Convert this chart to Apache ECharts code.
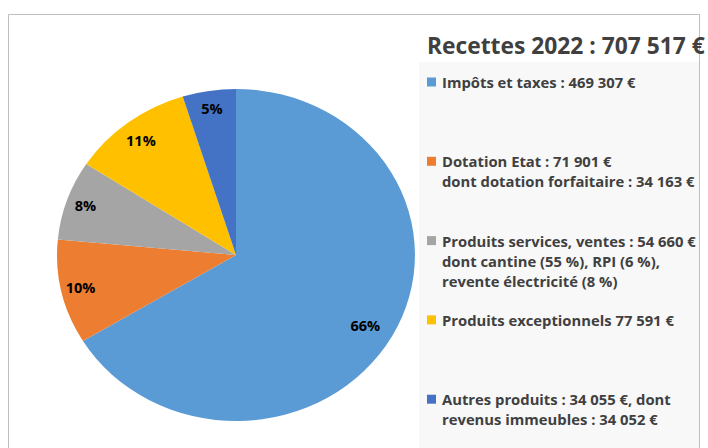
<!DOCTYPE html>
<html>
<head>
<meta charset="utf-8">
<script src="https://cdn.jsdelivr.net/npm/echarts/dist/echarts.min.js"></script>
<style>
html,body{margin:0;padding:0;background:#fff;}
#bg,#pie{position:absolute;left:0;top:0;width:708px;height:448px;}
#pie{transform-origin:236px 255px;transform:scaleX(1.078);}
</style>
</head>
<body>
<div id="bg"></div>
<div id="pie"></div>
<script>
const titleText = 'Recettes 2022 : 707 517 €';
const categories = ['Impôts et taxes', 'Dotation Etat', 'Produits services, ventes', 'Produits exceptionnels', 'Autres produits'];
const values = [469307, 71901, 54660, 77591, 34055];
const colors = ['#5B9BD5', '#ED7D31', '#A5A5A5', '#FFC000', '#4472C4'];
const legendLines = [
  ['Impôts et taxes : 469 307 €'],
  ['Dotation Etat : 71 901 €', 'dont dotation forfaitaire : 34 163 €'],
  ['Produits services, ventes : 54 660 €', 'dont cantine (55 %), RPI (6 %),', 'revente électricité (8 %)'],
  ['Produits exceptionnels 77 591 €'],
  ['Autres produits : 34 055 €, dont', 'revenus immeubles : 34 052 €']
];

const FONT = '"Open Sans", Lato, sans-serif';
const textColor = '#404040';

// Background layer: frame, title, legend
const bg = echarts.init(document.getElementById('bg'), null, {renderer: 'svg'});
const graphics = [
  {type: 'rect', shape: {x: 8.5, y: 14.5, width: 691, height: 460}, style: {fill: '#fff', stroke: '#BFBFBF', lineWidth: 1}},
  {type: 'rect', shape: {x: 419, y: 62, width: 280, height: 390}, style: {fill: '#F8F8F8'}},
  {type: 'text', x: 427, y: 45, style: {text: titleText, fill: textColor, font: 'bold 22.8px ' + FONT, textVerticalAlign: 'middle'}}
];
const legendTop = 82, legendGap = 79.3, lineH = 20;
legendLines.forEach((lines, i) => {
  const y0 = legendTop + i * legendGap;
  graphics.push({type: 'rect', shape: {x: 427, y: y0 - 4.5, width: 9, height: 9}, style: {fill: colors[i]}});
  lines.forEach((ln, j) => {
    graphics.push({type: 'text', x: 442, y: y0 + j * lineH, style: {text: ln, fill: textColor, font: 'bold 14.8px ' + FONT, textVerticalAlign: 'middle'}});
  });
});
bg.setOption({animation: false, graphic: graphics});

// Pie layer
const pie = echarts.init(document.getElementById('pie'), null, {renderer: 'svg'});
const data = categories.map((c, i) => ({name: c, value: values[i], itemStyle: {color: colors[i]}}));
pie.setOption({
  animation: false,
  backgroundColor: 'transparent',
  series: [
    {
      type: 'pie',
      center: [236, 255],
      radius: [0, 166],
      startAngle: 90,
      clockwise: true,
      silent: true,
      label: {show: false},
      labelLine: {show: false},
      itemStyle: {borderWidth: 0},
      data: data
    },
    {
      type: 'pie',
      center: [236, 255],
      radius: [124, 166],
      startAngle: 90,
      clockwise: true,
      silent: true,
      itemStyle: {color: 'transparent', borderWidth: 0},
      label: {
        show: true,
        position: 'inside',
        color: '#000',
        fontFamily: FONT,
        fontWeight: 'bold',
        fontSize: 13.5,
        formatter: p => Math.round(p.percent) + '%'
      },
      labelLine: {show: false},
      data: categories.map((c, i) => ({name: c, value: values[i], label: i === 0 ? {offset: [-9, -2]} : (i === 3 ? {offset: [1, 4]} : {})}))
    }
  ]
});
</script>
</body>
</html>
